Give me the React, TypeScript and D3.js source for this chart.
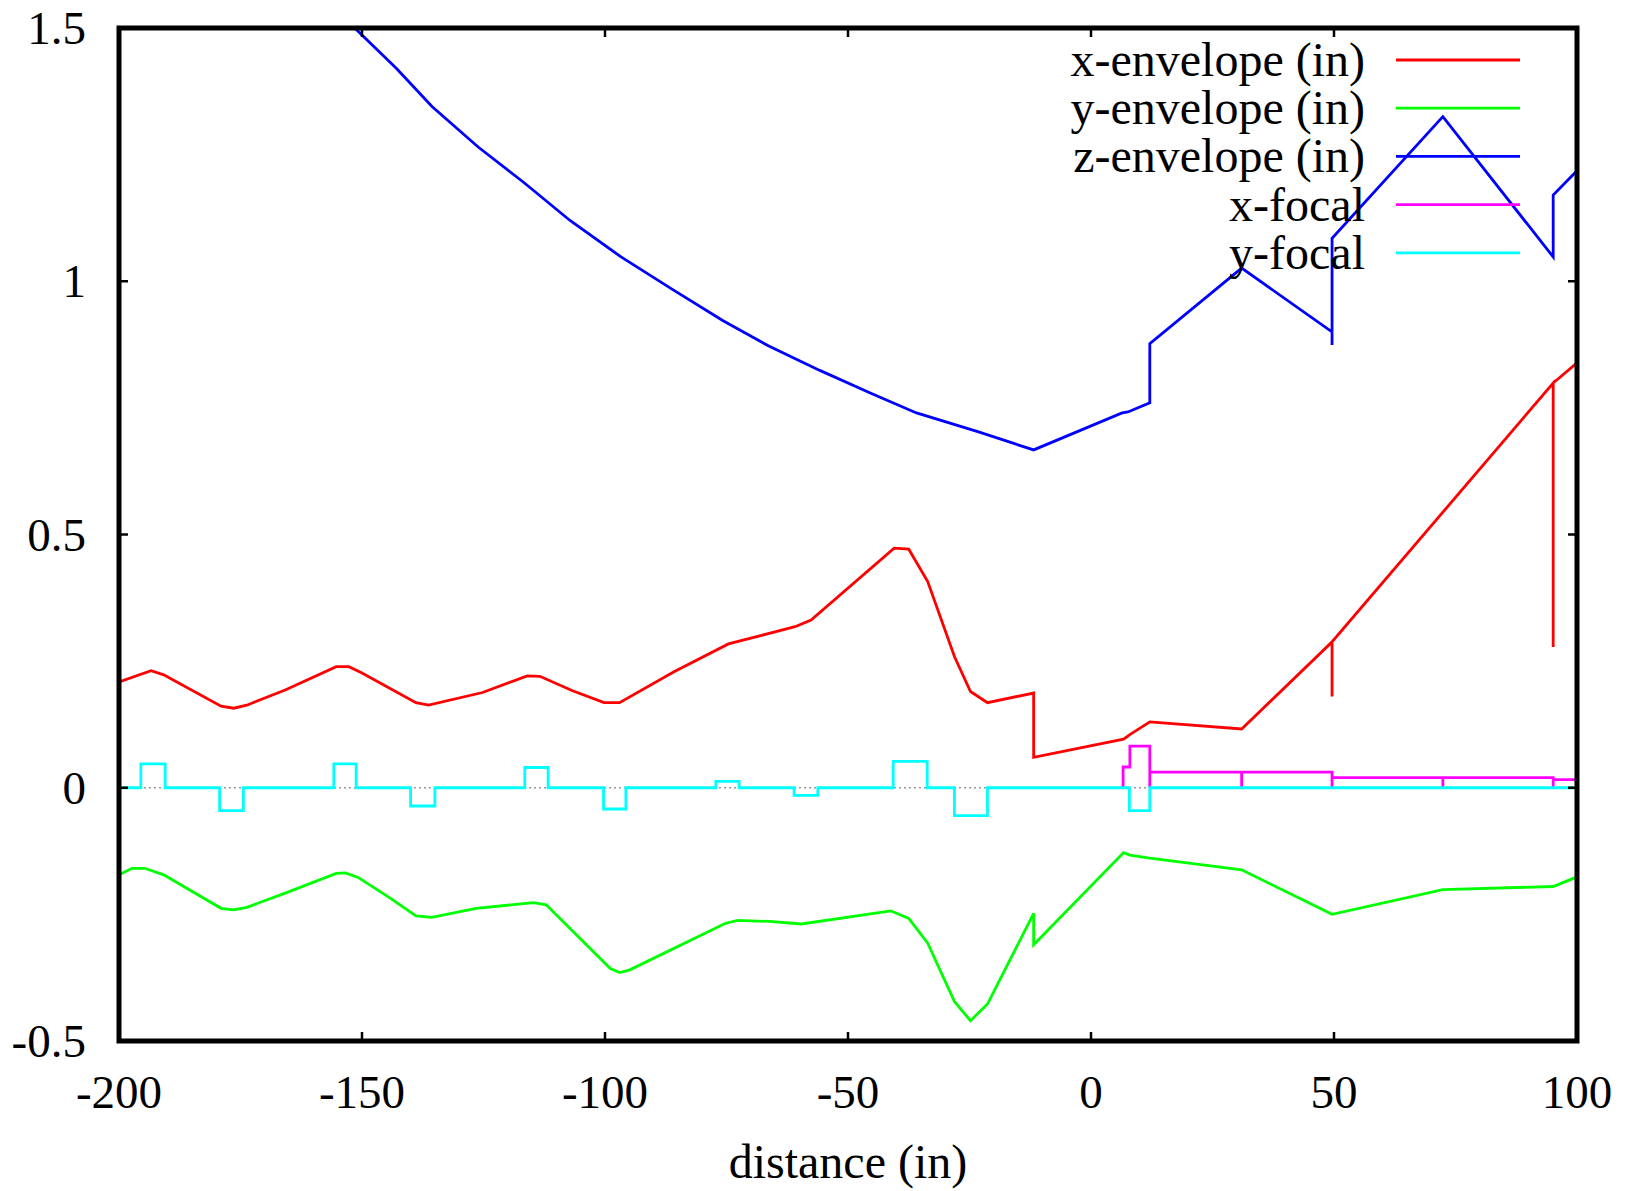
import React from 'react';
import * as d3 from 'd3';

// beam envelope / focal data: [distance (in), value]
const xEnvelope: [number, number][] = [
  [-200, 0.209], [-193.4, 0.231], [-190.8, 0.223], [-179.0, 0.161], [-176.4, 0.157],
  [-173.7, 0.163], [-165.8, 0.193], [-155.3, 0.239], [-152.7, 0.239], [-150.1, 0.227],
  [-138.9, 0.168], [-136.3, 0.163], [-125.2, 0.188], [-116.0, 0.221], [-113.4, 0.220],
  [-106.8, 0.192], [-100.2, 0.168], [-97.0, 0.168], [-85.8, 0.229], [-74.6, 0.284],
  [-71.4, 0.292], [-60.9, 0.318], [-57.6, 0.331], [-40.5, 0.473], [-37.5, 0.471],
  [-33.6, 0.407], [-28.1, 0.259], [-24.8, 0.190], [-21.3, 0.168], [-11.8, 0.187],
  [-11.8, 0.060], [6.7, 0.096], [8.0, 0.105], [12.1, 0.130], [31.0, 0.116],
  [49.6, 0.288], [49.6, 0.180], [49.6, 0.288], [95.1, 0.799], [95.1, 0.278],
  [95.1, 0.799], [100, 0.839],
];

const yEnvelope: [number, number][] = [
  [-200, -0.172], [-197.3, -0.159], [-194.7, -0.159], [-190.8, -0.172], [-179.0, -0.238],
  [-176.4, -0.241], [-173.7, -0.236], [-165.8, -0.208], [-155.3, -0.169], [-153.4, -0.168],
  [-150.8, -0.177], [-144.2, -0.218], [-138.9, -0.253], [-135.7, -0.256], [-126.5, -0.238],
  [-114.7, -0.227], [-112.1, -0.231], [-98.9, -0.357], [-97.0, -0.365], [-95.0, -0.360],
  [-75.3, -0.268], [-72.7, -0.262], [-66.1, -0.264], [-59.6, -0.269], [-41.2, -0.243],
  [-37.5, -0.258], [-33.6, -0.307], [-28.1, -0.422], [-24.8, -0.460], [-21.3, -0.427],
  [-11.8, -0.248], [-11.8, -0.310], [6.7, -0.128], [8.0, -0.133], [12.1, -0.139],
  [31.0, -0.162], [49.6, -0.250], [72.4, -0.201], [95.1, -0.195], [100, -0.176],
];

const zEnvelope: [number, number][] = [
  [-151.5, 1.5], [-142.9, 1.420], [-135.6, 1.345], [-126.1, 1.265], [-116.7, 1.195],
  [-107.2, 1.120], [-96.7, 1.048], [-86.3, 0.985], [-75.7, 0.922], [-66.3, 0.872],
  [-55.8, 0.824], [-45.3, 0.779], [-35.9, 0.740], [-23.3, 0.703], [-11.8, 0.667],
  [6.4, 0.740], [7.6, 0.742], [12.1, 0.760], [12.1, 0.877], [31.0, 1.026],
  [49.6, 0.900], [49.6, 0.874], [49.6, 1.085], [72.4, 1.325], [95.1, 1.048],
  [95.1, 1.170], [100, 1.218],
];

const xFocal: [number, number][] = [
  [6.6, 0], [6.6, 0.041], [8.0, 0.041], [8.0, 0.082], [12.1, 0.082],
  [12.1, 0], [12.1, 0.031], [31.0, 0.031], [31.0, 0], [31.0, 0.031], [49.6, 0.031],
  [49.6, 0], [49.6, 0.020], [72.4, 0.020], [72.4, 0], [72.4, 0.020], [95.1, 0.020],
  [95.1, 0], [95.1, 0.016], [100, 0.016],
];

const yFocal: [number, number][] = [
  [-200, 0],
  [-195.5, 0], [-195.5, 0.047], [-190.5, 0.047], [-190.5, 0],
  [-179.3, 0], [-179.3, -0.045], [-174.4, -0.045], [-174.4, 0],
  [-155.8, 0], [-155.8, 0.047], [-151.2, 0.047], [-151.2, 0],
  [-140.0, 0], [-140.0, -0.036], [-135.0, -0.036], [-135.0, 0],
  [-116.5, 0], [-116.5, 0.040], [-111.7, 0.040], [-111.7, 0],
  [-100.3, 0], [-100.3, -0.042], [-95.7, -0.042], [-95.7, 0],
  [-77.2, 0], [-77.2, 0.0125], [-72.4, 0.0125], [-72.4, 0],
  [-61.1, 0], [-61.1, -0.015], [-56.2, -0.015], [-56.2, 0],
  [-40.7, 0], [-40.7, 0.052], [-33.7, 0.052], [-33.7, 0],
  [-28.1, 0], [-28.1, -0.055], [-21.3, -0.055], [-21.3, 0],
  [7.9, 0], [7.9, -0.045], [12.1, -0.045], [12.1, 0],
  [100, 0],
];

const seriesNames = ['x-envelope (in)', 'y-envelope (in)', 'z-envelope (in)', 'x-focal', 'y-focal'];
const seriesColors = ['#ff0000', '#00ff00', '#0000ff', '#ff00ff', '#00ffff'];
const xTicks = [-200, -150, -100, -50, 0, 50, 100];
const yTicks = [-0.5, 0, 0.5, 1, 1.5];

const W = 1627;
const H = 1191;
const left = 119, right = 1577, top = 28, bottom = 1041;
const font = '"Liberation Serif", "Times New Roman", serif';

export default function App() {
  const x = d3.scaleLinear().domain([-200, 100]).range([left, right]);
  const y = d3.scaleLinear().domain([-0.5, 1.5]).range([bottom, top]);
  const line = d3.line<[number, number]>().x(d => x(d[0])).y(d => y(d[1]));
  const allSeries = [xEnvelope, yEnvelope, zEnvelope, xFocal, yFocal];
  const tickLen = 9;

  return (
    <svg width={W} height={H} style={{ position: 'absolute', left: 0, top: 0, display: 'block', background: '#fff' }}>
      <defs>
        <clipPath id="plot-clip">
          <rect x={left} y={top} width={right - left} height={bottom - top} />
        </clipPath>
      </defs>

      {/* zero axis */}
      <line x1={left} x2={right} y1={y(0)} y2={y(0)} stroke="#999" strokeWidth={1.5} strokeDasharray="2,3" />

      {/* data */}
      <g clipPath="url(#plot-clip)">
        {allSeries.map((s, i) => (
          <path key={i} d={line(s) || ''} fill="none" stroke={seriesColors[i]} strokeWidth={2.8} strokeLinejoin="miter" />
        ))}
      </g>

      {/* ticks, mirrored on all sides */}
      <g stroke="#000" strokeWidth={2.5}>
        {xTicks.map(t => (
          <g key={'xt' + t}>
            <line x1={x(t)} x2={x(t)} y1={bottom} y2={bottom - tickLen} />
            <line x1={x(t)} x2={x(t)} y1={top} y2={top + tickLen} />
          </g>
        ))}
        {yTicks.map(t => (
          <g key={'yt' + t}>
            <line x1={left} x2={left + tickLen} y1={y(t)} y2={y(t)} />
            <line x1={right} x2={right - tickLen} y1={y(t)} y2={y(t)} />
          </g>
        ))}
      </g>

      {/* border */}
      <rect x={left} y={top} width={right - left} height={bottom - top} fill="none" stroke="#000" strokeWidth={5} />

      {/* tick labels */}
      <g fontFamily={font} fontSize={47} fill="#000">
        {xTicks.map(t => (
          <text key={'xl' + t} x={x(t)} y={bottom + 67} textAnchor="middle">{t}</text>
        ))}
        {yTicks.map(t => (
          <text key={'yl' + t} x={left - 33} y={y(t) + 16} textAnchor="end">{t}</text>
        ))}
        <text x={(left + right) / 2} y={1178} fontSize={48} textAnchor="middle">distance (in)</text>
      </g>

      {/* legend */}
      <g fontFamily={font} fontSize={48}>
        {seriesNames.map((name, i) => {
          const ly = 60 + i * 48.2;
          return (
            <g key={name}>
              <text x={1365} y={ly + 16} textAnchor="end" fill="#000">{name}</text>
              <line x1={1396} x2={1520} y1={ly} y2={ly} stroke={seriesColors[i]} strokeWidth={2.8} />
            </g>
          );
        })}
      </g>
    </svg>
  );
}
